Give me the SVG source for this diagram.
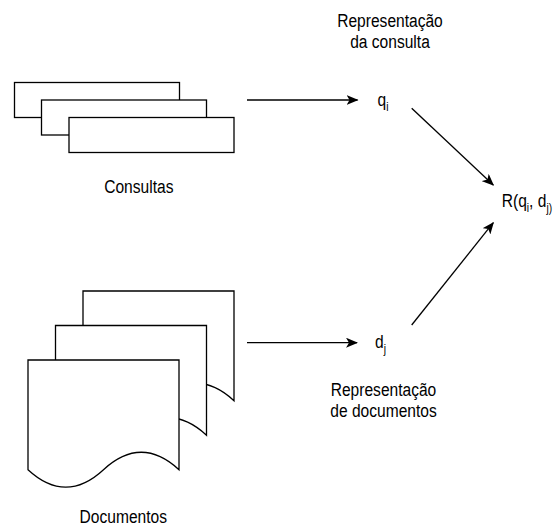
<svg xmlns="http://www.w3.org/2000/svg" width="557" height="530" viewBox="0 0 557 530">
  <style>
    .shape { fill: #ffffff; stroke: #000000; stroke-width: 1.3; }
    .lbl { font-family: "Liberation Sans", Arial, Helvetica, sans-serif; font-size: 19px; fill: #000000; }
    .sub { font-size: 12.5px; }
    .edge { fill: none; stroke: #000000; stroke-width: 1.3; marker-end: url(#arrow); }
  </style>
  <defs>
    <marker id="arrow" viewBox="0 0 12 10" refX="11" refY="5" markerWidth="12" markerHeight="10" markerUnits="userSpaceOnUse" orient="auto">
      <path d="M0,0 L12,5 L0,10 L3,5 Z" fill="#000000"/>
    </marker>
  </defs>
  <rect width="557" height="530" fill="#ffffff"/>

  <g id="consultas">
    <rect class="shape" x="14.5" y="82.5" width="165" height="35"/>
    <rect class="shape" x="41.5" y="100" width="165" height="35"/>
    <rect class="shape" x="69" y="117.5" width="165" height="35"/>
    <text class="lbl" text-anchor="middle" transform="translate(138.8,192.7) scale(0.82,1)">Consultas</text>
  </g>

  <g id="documentos">
    <path class="shape" d="M83,291 H234 V400.65 Q196.25,365.8 158.5,400.65 Q120.75,435.5 83,400.65 Z"/>
    <path class="shape" d="M55.5,325.5 H206.5 V435.15 Q168.75,400.3 131,435.15 Q93.25,470 55.5,435.15 Z"/>
    <path class="shape" d="M28,360 H179 V469.65 Q141.25,434.8 103.5,469.65 Q65.75,504.5 28,469.65 Z"/>
    <text class="lbl" text-anchor="middle" transform="translate(123.3,523) scale(0.82,1)">Documentos</text>
  </g>

  <g id="rep-consulta">
    <text class="lbl" text-anchor="middle" transform="translate(390,27) scale(0.82,1)">Representação</text>
    <text class="lbl" text-anchor="middle" transform="translate(390,48) scale(0.82,1)">da consulta</text>
  </g>

  <g id="qi">
    <text class="lbl" transform="translate(377.5,105.5) scale(0.82,1)">q<tspan class="sub" dy="5">i</tspan></text>
  </g>

  <g id="dj">
    <text class="lbl" transform="translate(375,348) scale(0.82,1)">d<tspan class="sub" dy="5">j</tspan></text>
  </g>

  <g id="rep-documentos">
    <text class="lbl" text-anchor="middle" transform="translate(383.5,396) scale(0.82,1)">Representação</text>
    <text class="lbl" text-anchor="middle" transform="translate(383.5,417) scale(0.82,1)">de documentos</text>
  </g>

  <g id="relevancia">
    <text class="lbl" transform="translate(501.7,206.7) scale(0.82,1)">R(q<tspan class="sub" dy="5">i</tspan><tspan dy="-5">, d</tspan><tspan class="sub" dy="5">j)</tspan></text>
  </g>

  <g id="connectors">
    <line class="edge" x1="247" y1="100" x2="357.5" y2="100"/>
    <line class="edge" x1="247" y1="342.7" x2="357" y2="342.7"/>
    <line class="edge" x1="411.7" y1="108.3" x2="493.3" y2="185"/>
    <line class="edge" x1="411.7" y1="325" x2="493.3" y2="222.7"/>
  </g>
</svg>
